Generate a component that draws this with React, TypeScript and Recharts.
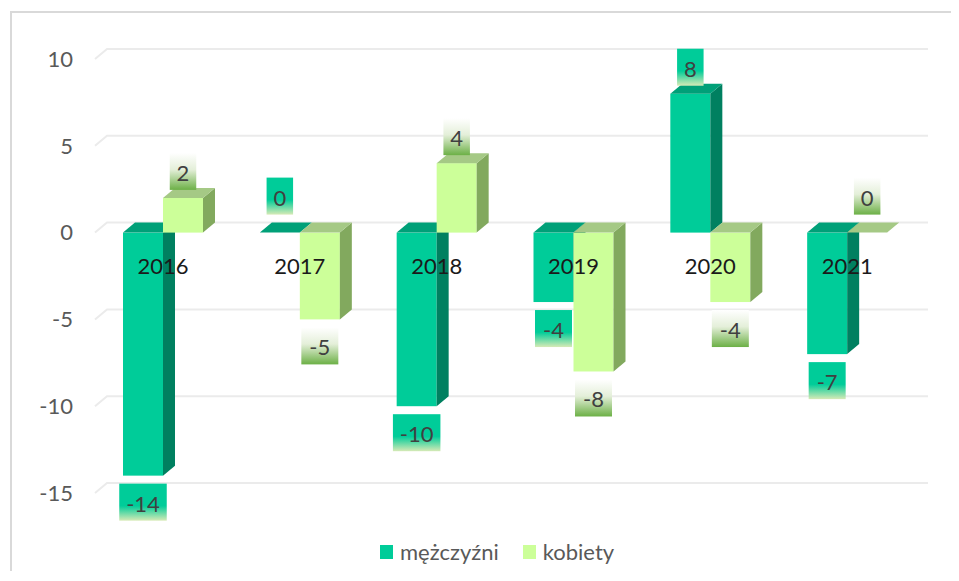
import React from 'react';
import { BarChart, Bar, XAxis, YAxis, CartesianGrid, LabelList, Legend } from 'recharts';

const years = ['2016', '2017', '2018', '2019', '2020', '2021'];
const men = [-14, 0, -10, -4, 8, -7];
const women = [2, -5, 4, -8, -4, 0];
const yTicks = [-15, -10, -5, 0, 5, 10];
const seriesNames = ['mężczyźni', 'kobiety'];

const data = years.map((year, i) => ({ year, men: men[i], women: women[i] }));

const W = 943;
const H = 565;
const MARGIN = { top: 51, right: 35, bottom: 80, left: 0 };
const Y_AXIS_W = 87;
const PLOT_H = H - MARGIN.top - MARGIN.bottom;
const ZERO_Y = MARGIN.top + PLOT_H * (10 / 25);
const DX = 12;
const DY = 10;
const FONT = 'Lato, "Open Sans", sans-serif';

const COLORS = {
  men: { front: '#00cc99', side: '#008060', top: '#00a078', legend: '#00cc99' },
  women: { front: '#ccff99', side: '#82a95e', top: '#a5c985', legend: '#ccff99' },
};

const Box3D = (props: any) => {
  const { x, y, width, height, c } = props;
  const y0 = Math.min(y, y + height);
  const y1 = Math.max(y, y + height);
  const x1 = x + width;
  return (
    <g>
      {y1 - y0 > 0.5 && <rect x={x} y={y0} width={width} height={y1 - y0} fill={c.front} />}
      {y1 - y0 > 0.5 && (
        <path d={`M${x1},${y0} L${x1 + DX},${y0 - DY} L${x1 + DX},${y1 - DY} L${x1},${y1} Z`} fill={c.side} />
      )}
      <path d={`M${x},${y0} L${x + DX},${y0 - DY} L${x1 + DX},${y0 - DY} L${x1},${y0} Z`} fill={c.top} />
    </g>
  );
};

const makeLabel = (kind: 'men' | 'women') => (props: any) => {
  const { x, y, width, height, value } = props;
  const v = Number(value);
  const y0 = Math.min(y, y + height);
  const y1 = Math.max(y, y + height);
  const txt = String(v);
  const bw = 16 + 10.5 * txt.length;
  const bh = 37;
  const cx = x + width / 2;
  let by: number;
  if (v > 0) by = y0 - 8 - bh;
  else if (v < 0) by = y1 + 8;
  else by = y0 - 18 - bh;
  return (
    <g>
      <rect x={cx - bw / 2} y={by} width={bw} height={bh} fill={`url(#lbl-${kind})`} />
      <text
        x={cx}
        y={by + bh / 2 + 1}
        textAnchor="middle"
        dominantBaseline="central"
        fontSize={22}
        fontFamily={FONT}
        fill="#404040"
      >
        {txt}
      </text>
    </g>
  );
};

// category names sit on the zero line, drawn after the bars so they stay on top
const YearLabel = (props: any) => {
  const { x, value } = props;
  return (
    <text
      x={x}
      y={ZERO_Y + 33}
      textAnchor="middle"
      dominantBaseline="central"
      fontSize={22}
      fontFamily={FONT}
      fill="#1a1a1a"
    >
      {value}
    </text>
  );
};

const GridLine = (props: any) => {
  const { x1, y1, x2, key } = props;
  return (
    <path
      key={key}
      d={`M${x1},${y1} L${x1 + DX},${y1 - DY} L${x2 + DX},${y1 - DY}`}
      stroke="#ebebeb"
      strokeWidth={2}
      fill="none"
    />
  );
};

const LegendContent = () => (
  <div style={{ display: 'flex', alignItems: 'center', fontFamily: FONT, fontSize: 22, color: '#595959' }}>
    {seriesNames.map((name, i) => (
      <div key={name} style={{ display: 'flex', alignItems: 'center', marginRight: i === 0 ? 24 : 0 }}>
        <span
          style={{
            display: 'inline-block',
            width: 13,
            height: 14,
            background: i === 0 ? COLORS.men.legend : COLORS.women.legend,
            marginRight: 7,
          }}
        />
        <span>{name}</span>
      </div>
    ))}
  </div>
);

export default function App() {
  return (
    <div style={{ position: 'relative', width: W, height: H }}>
      <div
        style={{
          position: 'absolute',
          left: 2,
          top: 3,
          width: 949,
          height: 560,
          boxSizing: 'border-box',
          borderTop: '2px solid #d9d9d9',
          borderLeft: '2px solid #d9d9d9',
        }}
      />
      <BarChart width={W} height={H} data={data} margin={MARGIN} barSize={40} barGap={0}>
        <defs>
          <linearGradient id="lbl-men" x1="0" y1="0" x2="0" y2="1">
            <stop offset="0" stopColor="#00cc99" />
            <stop offset="0.6" stopColor="#00cc99" />
            <stop offset="1" stopColor="#d6eab6" />
          </linearGradient>
          <linearGradient id="lbl-women" x1="0" y1="0" x2="0" y2="1">
            <stop offset="0" stopColor="#ffffff" />
            <stop offset="0.45" stopColor="#e4efd9" />
            <stop offset="1" stopColor="#6cb046" />
          </linearGradient>
        </defs>
        <CartesianGrid vertical={false} horizontal={GridLine} />
        <XAxis dataKey="year" hide />
        <YAxis
          domain={[-15, 10]}
          ticks={yTicks}
          interval={0}
          width={Y_AXIS_W}
          tickSize={0}
          tickMargin={22}
          axisLine={false}
          tickLine={false}
          tick={{ fill: '#595959', fontSize: 22, fontFamily: FONT }}
        />
        <Bar
          dataKey="men"
          name={seriesNames[0]}
          isAnimationActive={false}
          shape={(p: any) => <Box3D {...p} c={COLORS.men} />}
        >
          <LabelList dataKey="men" content={makeLabel('men')} />
        </Bar>
        <Bar
          dataKey="women"
          name={seriesNames[1]}
          isAnimationActive={false}
          shape={(p: any) => <Box3D {...p} c={COLORS.women} />}
        >
          <LabelList dataKey="women" content={makeLabel('women')} />
          <LabelList dataKey="year" content={YearLabel} />
        </Bar>
        <Legend
          verticalAlign="middle"
          align="center"
          layout="horizontal"
          wrapperStyle={{ left: 372, top: 530, width: 300 }}
          content={<LegendContent />}
        />
      </BarChart>
    </div>
  );
}
